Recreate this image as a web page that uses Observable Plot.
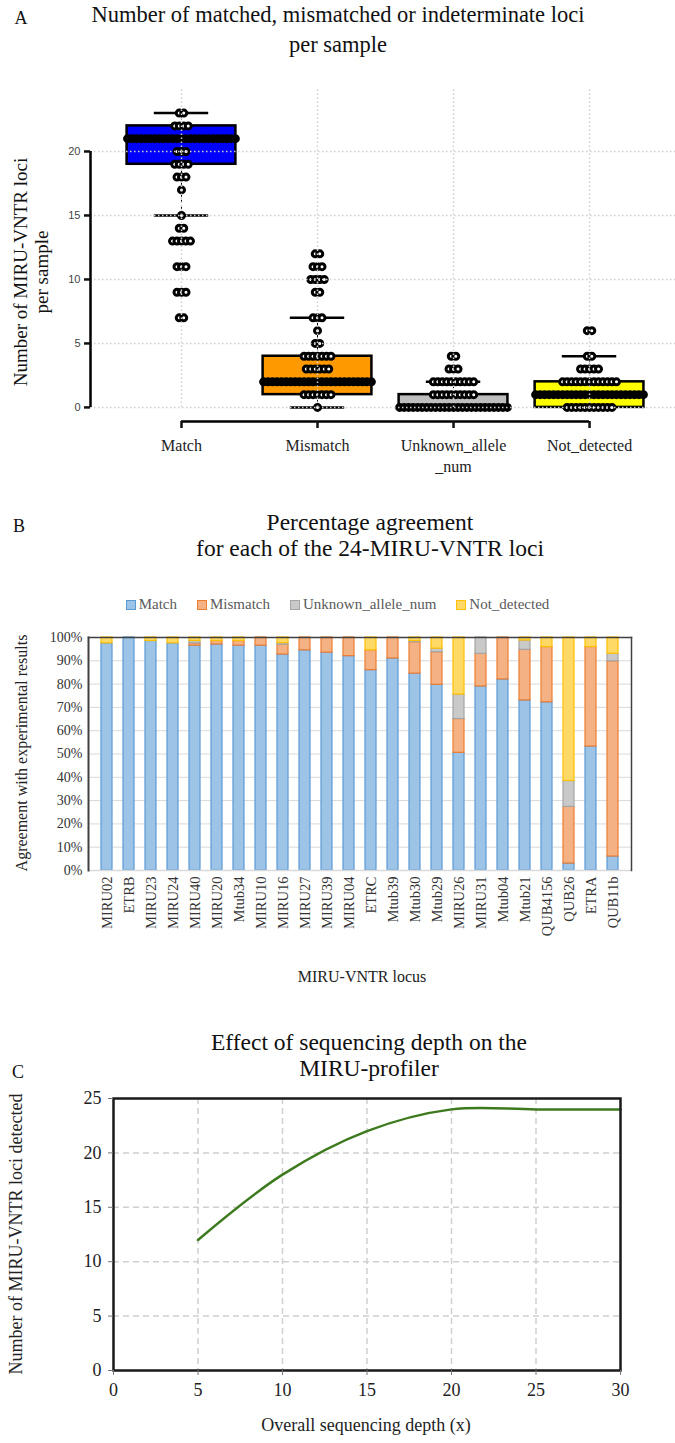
<!DOCTYPE html>
<html><head><meta charset="utf-8">
<script src="https://cdn.jsdelivr.net/npm/d3@7"></script>
<script src="https://cdn.jsdelivr.net/npm/@observablehq/plot@0.6"></script>
<style>
body{margin:0;background:#fff;}
#page{position:relative;width:675px;height:1443px;overflow:hidden;font-family:"Liberation Serif","Times New Roman",serif;color:#111;background:#fff;}
.lg{display:flex;align-items:center;gap:3px;}
.sw{width:8px;height:8px;border:1px solid;}
</style></head><body><div id="page"></div>
<script>
// ---------- Panel A data ----------
const catsA = ["Match", "Mismatch", "Unknown_allele_num", "Not_detected"];
const catLabelsA = ["Match", "Mismatch", "Unknown_allele\n_num", "Not_detected"];
const matchValues = [23, 22, 21, 20, 19, 18, 17, 15, 14, 13, 11, 9, 7];
const matchCounts = [2, 4, 25, 3, 4, 3, 1, 1, 2, 5, 3, 3, 2];
const mismatchValues = [12, 11, 10, 9, 7, 6, 5, 4, 3, 2, 1, 0];
const mismatchCounts = [2, 3, 4, 2, 3, 1, 2, 7, 6, 25, 7, 1];
const unknownValues = [4, 3, 2, 1, 0];
const unknownCounts = [2, 3, 10, 10, 25];
const notDetValues = [6, 4, 3, 2, 1, 0];
const notDetCounts = [2, 2, 5, 13, 25, 11];
const boxQ1 = [19, 1, 0, 0];
const boxMedian = [21, 2, 0, 1];
const boxQ3 = [22, 4, 1, 2];
const whiskerLow = [15, 0, 0, 0];
const whiskerHigh = [23, 7, 2, 4];
const boxColors = ["#0000ff", "#ff9900", "#bebebe", "#ffff00"];
const yTicksA = [0, 5, 10, 15, 20];

// ---------- Panel B data ----------
const lociB = ["MIRU02","ETRB","MIRU23","MIRU24","MIRU40","MIRU20","Mtub34","MIRU10","MIRU16","MIRU27","MIRU39","MIRU04","ETRC","Mtub39","Mtub30","Mtub29","MIRU26","MIRU31","Mtub04","Mtub21","QUB4156","QUB26","ETRA","QUB11b"];
const seriesB = ["Match", "Mismatch", "Unknown_allele_num", "Not_detected"];
const matchPct =    [97.5,100,98.5,97.5,96.5,97,96.5,96.5,92.7,94.5,93.5,92,86,91,84.5,79.7,50.5,79,82,73,72.2,3,53.2,6];
const mismatchPct = [0,0,0,0,1,1.5,2,3.5,4.2,5.5,6.5,8,8.5,9,13.5,14,14.5,14,18,21.7,23.7,24.3,42.7,83.8];
const unknownPct =  [0,0,0,0,1,0,0,0,0.7,0,0,0,0,0,0.5,1.5,10.5,7,0,4,0,11.1,0,3.2];
const notDetPct =   [2.5,0,1.5,2.5,1.5,1.5,1.5,0,2.4,0,0,0,5.5,0,1.5,4.8,24.5,0,0,1.3,4.1,61.6,4.1,7];
const fillB = ["#9dc3e6", "#f4b183", "#c9c9c9", "#ffd966"];
const strokeB = ["#5b9bd5", "#ed7d31", "#a5a5a5", "#ffc000"];
const yTicksB = [0,10,20,30,40,50,60,70,80,90,100];

// ---------- Panel C data ----------
const depthX = [5, 10, 15, 20, 25, 30];
const lociDetected = [12, 18, 22, 24, 24, 24];
const xTicksC = [0, 5, 10, 15, 20, 25, 30];
const yTicksC = [0, 5, 10, 15, 20, 25];

// ---------- helpers ----------
const page = document.getElementById("page");
const SERIF = "Liberation Serif, Times New Roman, serif";
function label(text, cx, cy, o = {}) {
  const d = document.createElement("div");
  d.textContent = text;
  d.style.cssText = `position:absolute;left:${cx}px;top:${cy}px;transform:translate(-50%,-50%)${o.rot ? " rotate(-90deg)" : ""};font-size:${o.size || 20}px;line-height:${o.lh || 1.3};text-align:center;white-space:pre;color:${o.color || "#111"};font-weight:${o.weight || "normal"};font-family:${o.font || SERIF};`;
  page.appendChild(d);
  return d;
}
function place(svg, top) {
  svg.style.position = "absolute";
  svg.style.left = "0px";
  svg.style.top = top + "px";
  page.appendChild(svg);
}

// ---------- Panel A ----------
const dotStep = 0.033, boxHalf = 0.4, capHalf = 0.2;
function swarm(values, counts, ci) {
  const out = [];
  values.forEach((v, j) => {
    const n = counts[j];
    const step = n > 1 ? Math.min(dotStep, (2 * boxHalf) / (n - 1)) : 0;
    for (let k = 0; k < n; k++) out.push({ x: ci + (k - (n - 1) / 2) * step, y: v });
  });
  return out;
}
const dotsA = [
  ...swarm(matchValues, matchCounts, 0),
  ...swarm(mismatchValues, mismatchCounts, 1),
  ...swarm(unknownValues, unknownCounts, 2),
  ...swarm(notDetValues, notDetCounts, 3)
];
const boxes = catsA.map((c, i) => ({ i, q1: boxQ1[i], med: boxMedian[i], q3: boxQ3[i], lo: whiskerLow[i], hi: whiskerHigh[i], fill: boxColors[i] }));
const catIdx = catsA.map((c, i) => i);
const xDomA = [-0.669, 3.632];
const yDomA = [-1.1, 25];
const gridA = { stroke: "#cfcfcf", strokeWidth: 1.5, strokeDasharray: "1.5,2.5" };

const plotA = Plot.plot({
  width: 675, height: 420,
  marginLeft: 90, marginRight: 0, marginTop: 27, marginBottom: 59,
  x: { domain: xDomA, axis: null },
  y: { domain: yDomA, axis: null },
  style: { fontFamily: SERIF, background: "transparent" },
  marks: [
    Plot.ruleX(boxes, { x: "i", y1: "q3", y2: "hi", stroke: "#000", strokeWidth: 1, strokeDasharray: "3,3" }),
    Plot.ruleX(boxes, { x: "i", y1: "q1", y2: "lo", stroke: "#000", strokeWidth: 1, strokeDasharray: "3,3" }),
    Plot.ruleY(boxes, { y: "hi", x1: d => d.i - capHalf, x2: d => d.i + capHalf, stroke: "#000", strokeWidth: 2.5 }),
    Plot.ruleY(boxes, { y: "lo", x1: d => d.i - capHalf, x2: d => d.i + capHalf, stroke: "#000", strokeWidth: 2.5 }),
    Plot.rect(boxes, { x1: d => d.i - boxHalf, x2: d => d.i + boxHalf, y1: "q1", y2: "q3", fill: "fill", stroke: "#000", strokeWidth: 2.5 }),
    Plot.dot(dotsA, { x: "x", y: "y", r: 3, fill: "#fff", stroke: "#000", strokeWidth: 3 }),
    Plot.ruleY(boxes, { y: "med", x1: d => d.i - boxHalf, x2: d => d.i + boxHalf, stroke: "#000", strokeWidth: 6, strokeLinecap: "round" }),
    Plot.ruleY(yTicksA, gridA),
    Plot.ruleX(catIdx, { ...gridA, y1: 0, y2: yDomA[1] }),
    Plot.ruleX([xDomA[0]], { y1: yTicksA[0], y2: yTicksA[yTicksA.length - 1], stroke: "#000", strokeWidth: 2.5 }),
    Plot.axisY(yTicksA, { label: null, tickSize: 6, tickPadding: 4, strokeWidth: 2.5, fontSize: 11, fontFamily: "Liberation Sans, Arial, sans-serif", fill: "#444" }),
    Plot.ruleY([yDomA[0]], { x1: catIdx[0], x2: catIdx[catIdx.length - 1], stroke: "#000", strokeWidth: 2.5 }),
    Plot.axisX(catIdx, { label: null, tickFormat: i => catLabelsA[i], tickSize: 7, tickPadding: 7, strokeWidth: 2.5, fontSize: 16, fontFamily: SERIF, fill: "#222", lineHeight: 1.35 })
  ]
});
place(plotA, 60);

label("A", 21, 19, { size: 18 });
label("Number of matched, mismatched or indeterminate loci\nper sample", 338, 30, { size: 22.5, lh: "30px" });
label("Number of MIRU-VNTR loci\nper sample", 31, 272, { size: 19, rot: true, lh: "21px" });

// ---------- Panel B ----------
const pctB = [matchPct, mismatchPct, unknownPct, notDetPct];
const longB = [];
lociB.forEach((loc, j) => {
  seriesB.forEach((s, k) => {
    if (pctB[k][j] > 0) longB.push({ locus: loc, series: s, pct: pctB[k][j], fill: fillB[k], stroke: strokeB[k] });
  });
});

const plotB = Plot.plot({
  width: 675, height: 370,
  marginLeft: 88, marginRight: 44, marginTop: 17, marginBottom: 120,
  x: { domain: lociB, paddingInner: 0.5, paddingOuter: 0.25, axis: null },
  y: { domain: [0, 100], axis: null },
  style: { fontFamily: SERIF, background: "transparent" },
  marks: [
    Plot.ruleY(yTicksB.slice(1, -1), { stroke: "#d9d9d9", strokeWidth: 1 }),
    Plot.barY(longB, { x: "locus", y: "pct", fill: "fill", stroke: "stroke", strokeWidth: 1.2 }),
    Plot.ruleY([0], { stroke: "#d9d9d9", strokeWidth: 1.5 }),
    Plot.frame({ stroke: "#404040", strokeWidth: 1.5, anchor: "top" }),
    Plot.frame({ stroke: "#404040", strokeWidth: 2, anchor: "left" }),
    Plot.frame({ stroke: "#404040", strokeWidth: 1.5, anchor: "right" }),
    Plot.axisY(yTicksB, { label: null, tickFormat: d => d + "%", tickSize: 0, tickPadding: 6, fontSize: 14, fontFamily: SERIF, fill: "#333" }),
    Plot.axisX(lociB, { label: null, tickRotate: -90, tickSize: 0, tickPadding: 6, fontSize: 14.5, fontFamily: SERIF, fill: "#333" })
  ]
});
place(plotB, 620);

label("B", 19, 527, { size: 18 });
label("Percentage agreement\nfor each of the 24-MIRU-VNTR loci", 370, 535, { size: 23.5, lh: "26px" });
label("Agreement with experimental results", 22, 753, { size: 16, rot: true, color: "#222" });
label("MIRU-VNTR locus", 362, 977, { size: 16, color: "#222" });

// legend B
const lg = document.createElement("div");
lg.style.cssText = `position:absolute;left:0;top:596px;width:675px;display:flex;justify-content:center;gap:20px;font-size:15px;color:#595959;font-family:${SERIF};`;
seriesB.forEach((s, k) => {
  const it = document.createElement("div");
  it.className = "lg";
  it.innerHTML = `<span class="sw" style="background:${fillB[k]};border-color:${strokeB[k]}"></span><span>${s}</span>`;
  lg.appendChild(it);
});
page.appendChild(lg);

// ---------- Panel C ----------
const dataC = depthX.map((x, i) => ({ x, y: lociDetected[i] }));
const gridC = { stroke: "#d0d0d0", strokeWidth: 1.5, strokeDasharray: "6,4" };
const plotC = Plot.plot({
  width: 675, height: 363,
  marginLeft: 113, marginRight: 55, marginTop: 18, marginBottom: 73,
  x: { domain: [xTicksC[0], xTicksC[xTicksC.length - 1]], axis: null },
  y: { domain: [yTicksC[0], yTicksC[yTicksC.length - 1]], axis: null },
  style: { fontFamily: SERIF, background: "transparent" },
  marks: [
    Plot.ruleY(yTicksC.slice(1, -1), gridC),
    Plot.ruleX(xTicksC.slice(1, -1), gridC),
    Plot.line(dataC, { x: "x", y: "y", curve: "catmull-rom", stroke: "#3d7a1e", strokeWidth: 2.5 }),
    Plot.frame({ stroke: "#1a1a1a", strokeWidth: 2.5 }),
    Plot.axisX(xTicksC, { label: null, tickSize: 5, tickPadding: 8, fontSize: 18, fontFamily: SERIF, fill: "#222", stroke: "#777" }),
    Plot.axisY(yTicksC, { label: null, tickSize: 5, tickPadding: 7, fontSize: 18, fontFamily: SERIF, fill: "#222", stroke: "#777" })
  ]
});
place(plotC, 1080);

label("C", 18, 1073, { size: 18 });
label("Effect of sequencing depth on the\nMIRU-profiler", 369, 1055, { size: 23.5, lh: "26px" });
label("Number of MIRU-VNTR loci detected", 17, 1234, { size: 18, rot: true, color: "#222" });
label("Overall sequencing depth (x)", 366, 1426, { size: 18, color: "#222" });
</script>
</body></html>
